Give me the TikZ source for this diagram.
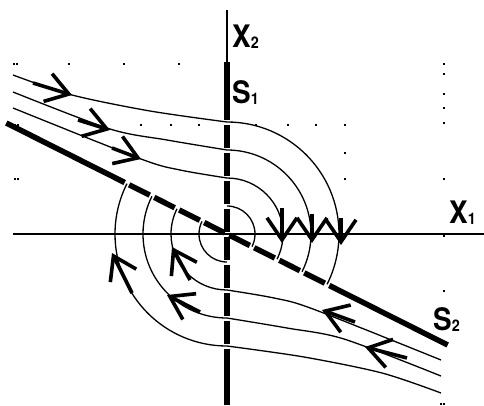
\documentclass[tikz,border=0pt]{standalone}
\usepackage{fontspec}
\setmainfont{TeX Gyre Heros}
\usetikzlibrary{arrows.meta}
\newcommand\axlabel[2]{\scalebox{0.9}[1]{#1\raisebox{-1pt}{\fontsize{16}{16}\selectfont #2}}}

\begin{document}
\begin{tikzpicture}[x=1pt,y=1pt,line cap=butt,
  traj/.style={line width=1.3pt},
  surf/.style={line width=5.5pt},
  flow/.style={line width=3.6pt,-{Straight Barb[length=22pt,width=29pt]}},
  chatter/.style={line width=3.6pt,-{Straight Barb[length=22pt,width=30pt]}},
  lbl/.style={anchor=base west,inner sep=0pt,font=\bfseries\fontsize{31}{32}\selectfont}]
\useasboundingbox (-227,-171) rectangle (257,234);
\coordinate (O) at (0,0);
\coordinate (x1e) at (-214,0);
\coordinate (x1f) at (257,0);
\coordinate (x2e) at (0,224);
\coordinate (s1a) at (0,172);
\coordinate (s1b) at (0,-171);
\coordinate (s2a) at (153.3:247);
\coordinate (s2b) at (-26.7:247);
% specks of the old frame
\foreach \x/\y in {-214/171,-211/171,-159/171,-104/171,-49/171,
  -213/110,-210/110,-87/110,-57/110,-29/110,28/110,60/110,88/110,117/110,
  117/82,117/56,-213/56,-210/56,
  216/171,216/161,216/141,216/127,216/112,216/56,216/-1,216/-56,213/-169,216/-169}
  \fill (\x,\y) rectangle ++(1.6,-1.6);
% axes
\draw[line width=1.3pt] (x1e) -- (x1f);
\draw[line width=1.3pt] (x2e) -- (s1a);
% switching lines
\draw[surf,line width=6pt] (s1a) -- (0,114.5);
\draw[surf,line width=6pt,dash pattern=on 23pt off 5pt,dash phase=23pt] (0,114.5) -- (0,-114.5);
\draw[surf,line width=6pt] (0,-114.5) -- (s1b);
\draw[surf] (s2a) -- (153.3:114.5);
\draw[surf,dash pattern=on 23pt off 5pt,dash phase=23pt] (153.3:114.5) -- (-26.7:114.5);
\draw[surf] (-26.7:114.5) -- (s2b);
% trajectories, the lower half is the upper one turned round O
\foreach \rot in {0,180}{
\begin{scope}[rotate around={\rot:(O)}]
\draw[traj] plot[smooth] coordinates {(-214,159) (-155,139) (-77,123) (0,112)} arc[start angle=90,end angle=-26.7,radius=112];
\draw[traj] plot[smooth] coordinates {(-214,142) (-117,105) (-60,94) (0,84)} arc[start angle=90,end angle=-26.7,radius=84];
\draw[traj] plot[smooth] coordinates {(-214,126) (-86,75) (-47,64) (0,56)} arc[start angle=90,end angle=-26.7,radius=56];
\draw[traj] (0,28) arc[start angle=90,end angle=-26.7,radius=28];
\end{scope}}
% direction of motion
\draw[flow] (-194,151) -- (-155,139);
\draw[flow] (-149,114) -- (-117,104);
\draw[flow] (-115,86) -- (-86,75);
\draw[flow] (-95,-59) -- (-115,-19);
\draw[flow] (-37,-46) -- (-55,-13);
\draw[flow] (-27,-78) -- (-60,-61);
\draw[flow] (128,-88) -- (95,-76);
\draw[flow] (180,-124) -- (138,-113);
\draw[chatter] (55,26) -- (55,-9);
\draw[chatter] (85,20) -- (85,-9);
\draw[chatter] (114,16) -- (114,-11);
% labels
\node[lbl] (lx2) at (5,187) {\axlabel{X}{2}};
\node[lbl] (ls1) at (5,131) {\axlabel{S}{1}};
\node[lbl] (lx1) at (222,11) {\axlabel{X}{1}};
\node[lbl] (ls2) at (206,-96) {\axlabel{S}{2}};
\end{tikzpicture}
\end{document}
